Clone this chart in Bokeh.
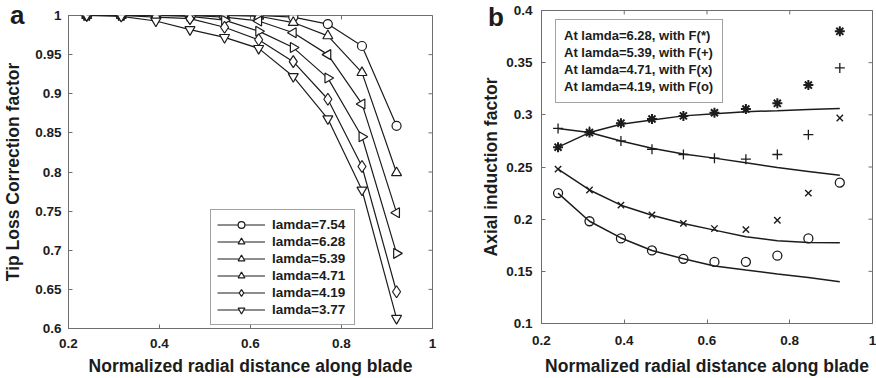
from bokeh.plotting import figure
from bokeh.layouts import row, column
from bokeh.models import (Legend, LegendItem, FixedTicker, Div,
                          Range1d, PrintfTickFormatter)
from bokeh.embed import file_html
from bokeh.resources import INLINE

# ---------------- data ----------------
r_norm = [0.240, 0.316, 0.392, 0.467, 0.543, 0.618, 0.694, 0.770, 0.845, 0.921]

x_ticks = [0.2, 0.4, 0.6, 0.8, 1.0]
ya_ticks = [0.6, 0.65, 0.7, 0.75, 0.8, 0.85, 0.9, 0.95, 1.0]
yb_ticks = [0.1, 0.15, 0.2, 0.25, 0.3, 0.35, 0.4]
panel_letters = ["a", "b"]

# panel a: tip loss correction factor
lamda_labels = ["lamda=7.54", "lamda=6.28", "lamda=5.39",
                "lamda=4.71", "lamda=4.19", "lamda=3.77"]
F_754 = [1.000, 1.000, 1.000, 1.000, 1.000, 1.000, 0.998, 0.989, 0.961, 0.859]
F_628 = [1.000, 1.000, 1.000, 1.000, 1.000, 0.999, 0.991, 0.974, 0.927, 0.799]
F_539 = [1.000, 1.000, 1.000, 1.000, 0.998, 0.993, 0.978, 0.950, 0.887, 0.748]
F_471 = [1.000, 1.000, 1.000, 0.999, 0.994, 0.980, 0.959, 0.920, 0.845, 0.696]
F_419 = [1.000, 1.000, 0.998, 0.996, 0.985, 0.969, 0.941, 0.893, 0.807, 0.647]
F_377 = [1.000, 0.999, 0.993, 0.982, 0.972, 0.958, 0.922, 0.868, 0.777, 0.613]

# panel b: axial induction factor (points with F, lines without)
b_labels = ["At lamda=6.28, with F(*)", "At lamda=5.39, with F(+)",
            "At lamda=4.71, with F(x)", "At lamda=4.19, with F(o)"]
a628_F = [0.269, 0.283, 0.292, 0.296, 0.299, 0.302, 0.3055, 0.311, 0.3285, 0.380]
a628 = [0.269, 0.283, 0.291, 0.295, 0.299, 0.301, 0.303, 0.304, 0.305, 0.306]
a539_F = [0.287, 0.284, 0.275, 0.267, 0.262, 0.2585, 0.2575, 0.262, 0.281, 0.345]
a539 = [0.287, 0.283, 0.275, 0.268, 0.2625, 0.2585, 0.254, 0.2496, 0.2458, 0.242]
a471_F = [0.248, 0.228, 0.2134, 0.204, 0.196, 0.191, 0.190, 0.199, 0.225, 0.297]
a471 = [0.248, 0.228, 0.2134, 0.2038, 0.1959, 0.1895, 0.1831, 0.1793, 0.1777, 0.1774]
a419_F = [0.225, 0.198, 0.1815, 0.170, 0.162, 0.159, 0.159, 0.165, 0.1815, 0.235]
a419 = [0.225, 0.198, 0.182, 0.170, 0.162, 0.1552, 0.1513, 0.1475, 0.144, 0.140]

FONT = "Liberation Sans"
INK = "#1c1c1c"
FRAME = "#6e6e6e"


def style(p, xt, yt, xlabel, ylabel, x_std, xl_std, y_std, yl_std):
    p.outline_line_color = FRAME
    p.outline_line_width = 1
    p.border_fill_alpha = 0
    p.xgrid.visible = False
    p.ygrid.visible = False
    p.xaxis.ticker = FixedTicker(ticks=xt)
    p.yaxis.ticker = FixedTicker(ticks=yt)
    p.xaxis.formatter = PrintfTickFormatter(format="%g")
    p.yaxis.formatter = PrintfTickFormatter(format="%g")
    for ax in (p.xaxis[0], p.yaxis[0]):
        ax.axis_line_color = FRAME
        ax.major_tick_line_color = FRAME
        ax.major_tick_in = 4
        ax.major_tick_out = 0
        ax.minor_tick_in = 0
        ax.minor_tick_out = 0
        ax.major_label_text_font = FONT
        ax.major_label_text_font_style = "bold"
        ax.major_label_text_font_size = "13.5px"
        ax.major_label_text_color = INK
        ax.major_label_text_line_height = 1.0
        ax.axis_label_text_font = FONT
        ax.axis_label_text_font_style = "bold"
        ax.axis_label_text_font_size = "17.5px"
        ax.axis_label_text_color = INK
        ax.axis_label_text_line_height = 1.0
    p.xaxis.axis_label = xlabel
    p.yaxis.axis_label = ylabel
    p.xaxis.major_label_standoff = x_std
    p.xaxis.axis_label_standoff = xl_std
    p.yaxis.major_label_standoff = y_std
    p.yaxis.axis_label_standoff = yl_std
    # mirrored inward ticks on the top and right edges (half clipped by the frame)
    top_y = [p.y_range.end] * len(xt)
    right_x = [p.x_range.end] * len(yt)
    p.scatter(xt, top_y, marker="dash", angle=1.5708, size=8, line_color=FRAME)
    p.scatter(right_x, yt, marker="dash", size=8, line_color=FRAME)


# ---------------- panel a ----------------
pa = figure(width=440, height=378, output_backend="svg", toolbar_location=None,
            x_range=Range1d(0.2, 1.0), y_range=Range1d(0.6, 1.0),
            min_border_left=68, min_border_right=8, min_border_top=15,
            min_border_bottom=50)
style(pa, x_ticks, ya_ticks, "Normalized radial distance along blade",
      "Tip Loss Correction factor", 10, 5, 7, 9)

series_a = [F_754, F_628, F_539, F_471, F_419, F_377]
markers = [("circle", 0.0, 9), ("triangle", 0.0, 10), ("triangle", 1.5708, 10),
           ("triangle", -1.5708, 10), ("diamond", 0.0, 12), ("inverted_triangle", 0.0, 10)]
items = []
for ys, (mk, ang, sz), lab in zip(series_a, markers, lamda_labels):
    ln = pa.line(r_norm, ys, line_color=INK, line_width=1.2)
    sc = pa.scatter(r_norm, ys, marker=mk, angle=ang, size=sz, line_color=INK,
                    line_width=1.2, fill_color="white")
    items.append(LegendItem(label=lab, renderers=[ln, sc]))

leg_a = Legend(items=items, location=(142, 3))
leg_a.label_text_font = FONT
leg_a.label_text_font_style = "bold"
leg_a.label_text_font_size = "13.5px"
leg_a.label_text_color = INK
leg_a.glyph_width = 48
leg_a.glyph_height = 17
leg_a.label_height = 17
leg_a.label_width = 76
leg_a.label_standoff = 7
leg_a.spacing = 0
leg_a.padding = 6
leg_a.margin = 0
leg_a.border_line_color = "#444444"
leg_a.border_line_width = 1
leg_a.background_fill_color = "white"
leg_a.background_fill_alpha = 1
pa.add_layout(leg_a, "center")

# ---------------- panel b ----------------
pb = figure(width=436, height=378, output_backend="svg", toolbar_location=None,
            x_range=Range1d(0.2, 1.0), y_range=Range1d(0.1, 0.4),
            min_border_left=101, min_border_right=4, min_border_top=10,
            min_border_bottom=54)
style(pb, x_ticks, yb_ticks, "Normalized radial distance along blade",
      "Axial induction factor", 12, 8, 9, 2)

for fit in (a628, a539, a471, a419):
    pb.line(r_norm, fit, line_color=INK, line_width=1.5)
pb.scatter(r_norm, a628_F, marker="asterisk", size=10, line_color=INK, line_width=2)
pb.scatter(r_norm, a539_F, marker="cross", size=10, line_color=INK, line_width=1.3)
pb.scatter(r_norm, a471_F, marker="x", size=9, line_color=INK, line_width=1.4)
pb.scatter(r_norm, a419_F, marker="circle", size=9, line_color=INK, line_width=1.3,
           fill_color=None)

items_b = []
for lab in b_labels:
    dummy = pb.scatter(x=[], y=[], size=0, line_alpha=0, fill_alpha=0)
    items_b.append(LegendItem(label=lab, renderers=[dummy]))
leg_b = Legend(items=items_b, location=(14, 220))
leg_b.label_text_font = FONT
leg_b.label_text_font_style = "bold"
leg_b.label_text_font_size = "13px"
leg_b.label_text_color = INK
leg_b.glyph_width = 0
leg_b.glyph_height = 14
leg_b.label_height = 14
leg_b.label_width = 150
leg_b.label_standoff = 0
leg_b.spacing = 2
leg_b.padding = 8
leg_b.margin = 0
leg_b.border_line_color = "#444444"
leg_b.border_line_width = 1
leg_b.background_fill_color = "white"
pb.add_layout(leg_b, "center")

# panel letters as real HTML text overlaid on the figures' margins
span = ('<span style="position:absolute;left:{l}px;top:{t}px;line-height:26px;'
        'font-family:\'Liberation Sans\';font-weight:bold;font-size:26px;'
        'color:#1c1c1c;">{s}</span>')
letters = Div(text=span.format(l=10, t=2, s=panel_letters[0]) +
              span.format(l=488, t=4, s=panel_letters[1]),
              width=876, height=30, margin=(-378, 0, 0, 0),
              styles={"position": "relative", "z-index": "5",
                      "pointer-events": "none"})

layout = column(row(column(pa), column(pb)), letters)
open("out.html", "w").write(file_html(layout, INLINE))
